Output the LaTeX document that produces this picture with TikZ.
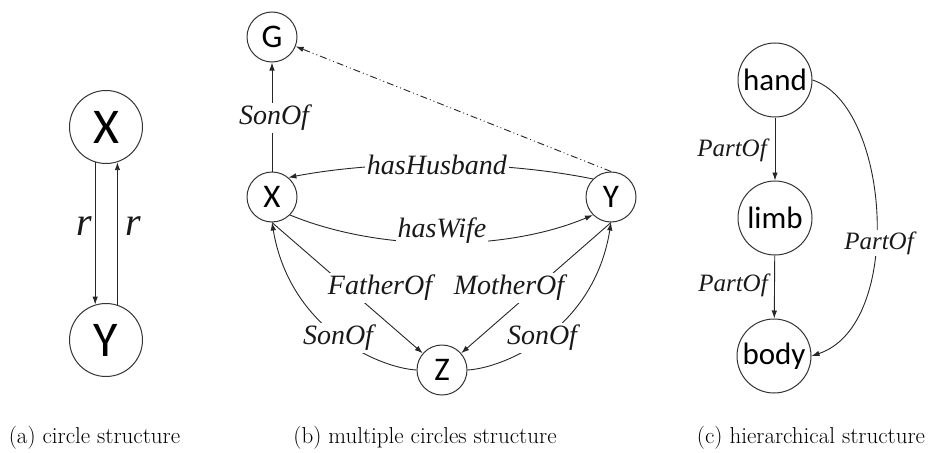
\documentclass[tikz,border=0pt]{standalone}
\usepackage{fontspec}
\newfontfamily\nodefont{Carlito}
\newfontface\lblfont{Liberation Serif Italic}
\usetikzlibrary{arrows.meta}
\begin{document}
\begin{tikzpicture}[x=1pt,y=-1pt,
  ent/.style={circle,draw=black!80,line width=1pt,inner sep=0pt,fill=white,text=black},
  entA/.style={ent,minimum size=73pt,font=\nodefont\fontsize{50}{50}\selectfont},
  entB/.style={ent,minimum size=50pt,font=\nodefont\fontsize{33}{33}\selectfont},
  entC/.style={ent,minimum size=74pt,font=\nodefont\fontsize{31}{31}\selectfont},
  lbl/.style={font=\lblfont\fontsize{28}{30}\selectfont,fill=white,inner sep=2pt,text=black!90},
  lblc/.style={font=\lblfont\fontsize{25}{27}\selectfont,fill=white,inner sep=2pt,text=black!90},
  rlbl/.style={font=\lblfont\fontsize{40}{40}\selectfont,inner sep=0pt,text=black!90},
  captext/.style={font=\fontsize{23}{27}\selectfont,inner sep=0pt,anchor=base},
  edge/.style={line width=0.9pt,draw=black!85,-{Latex[length=8pt,width=5.5pt]}},
  dashdotdot/.style={dash pattern=on 7pt off 3pt on 1pt off 3pt on 1pt off 3pt}
]
\useasboundingbox (0,0) rectangle (936,452);
% (a)
\node[entA] (aX) at (106,127) {X};
\node[entA] (aY) at (106,340) {Y};
\draw[edge] (aX.-107.5) -- (aY.107.5);
\draw[edge] (aY.72.5) -- (aX.-72.5);
\node[rlbl] (r1) at (84,226) {r};
\node[rlbl] (r2) at (133,226) {r};
% (b)
\node[entB] (G) at (272,37) {G};
\node[entB] (bX) at (272,197) {X};
\node[entB] (bY) at (611,197) {Y};
\node[entB] (Z) at (442,370) {Z};
\draw[edge] (bX) -- (G);
\draw[edge,dashdotdot] (bY.north) -- (G);
\draw[edge] (bY.135) .. controls (500,160) and (380,160) .. (bX.50);
\draw[edge] (bX.-45) .. controls (380,252) and (505,252) .. (bY.-135);
\draw[edge] (bX.south) -- (Z);
\draw[edge] (bY.south) -- (Z);
\draw[edge] (Z.west) .. controls (380,368) and (290,330) .. (bX.south);
\draw[edge] (Z.east) .. controls (504,368) and (594,330) .. (bY.south);
\node[lbl] (l1) at (274,118) {SonOf};
\node[lbl] (l2) at (437,165) {hasHusband};
\node[lbl] (l3) at (442,231) {hasWife};
\node[lbl] (l4) at (380,288) {FatherOf};
\node[lbl] (l5) at (509,288) {MotherOf};
\node[lbl] (l6) at (338,338) {SonOf};
\node[lbl] (l7) at (542,338) {SonOf};
% (c)
\node[entC] (hand) at (775,80) {hand};
\node[entC] (limb) at (775,218) {limb};
\node[entC] (body) at (774,356) {body};
\draw[edge] (hand) -- (limb);
\draw[edge] (limb) -- (body);
\draw[edge] (hand.east) .. controls (890,105) and (905,325) .. (body.east);
\node[lblc] (p1) at (732,150) {PartOf};
\node[lblc] (p2) at (733,285) {PartOf};
\node[lblc] (p3) at (879,243) {PartOf};
% captions
\node[captext] (ca) at (94.5,443) {(a) circle structure};
\node[captext] (cb) at (425,443) {(b) multiple circles structure};
\node[captext] (cc) at (811,443) {(c) hierarchical structure};
\end{tikzpicture}
\end{document}
